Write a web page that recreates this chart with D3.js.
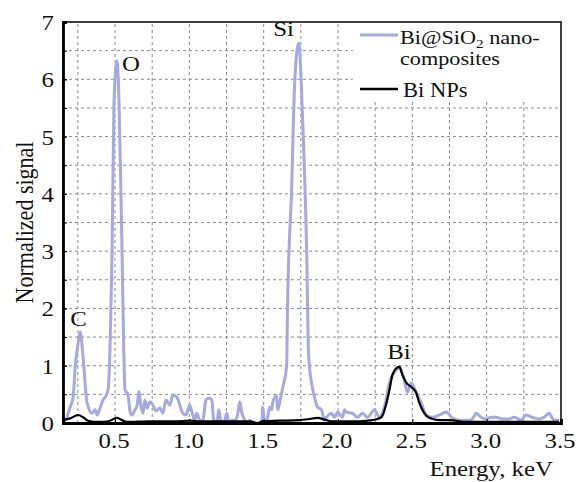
<!DOCTYPE html>
<html>
<head>
<meta charset="utf-8">
<script src="https://cdn.jsdelivr.net/npm/d3@7"></script>
<style>
  body { margin: 0; background: #fff; }
</style>
</head>
<body>
<svg id="chart"></svg>
<script>
// Bi@SiO2 nanocomposites spectrum (energy keV, normalized signal)
const compEnergy = [0.151,0.164,0.198,0.218,0.232,0.252,0.265,0.285,0.312,0.346,0.366,0.379,0.399,0.419,0.440,0.453,0.466,0.480,0.493,0.513,0.527,0.547,0.567,0.587,0.601,0.614,0.634,0.648,0.661,0.674,0.688,0.701,0.715,0.735,0.755,0.775,0.802,0.822,0.842,0.869,0.889,0.916,0.936,0.956,0.977,0.990,1.003,1.017,1.037,1.050,1.070,1.091,1.111,1.131,1.151,1.164,1.185,1.198,1.211,1.232,1.252,1.265,1.285,1.312,1.326,1.339,1.352,1.372,1.393,1.406,1.426,1.460,1.487,1.493,1.507,1.520,1.540,1.554,1.560,1.587,1.594,1.607,1.628,1.654,1.661,1.688,1.708,1.735,1.762,1.789,1.802,1.822,1.842,1.862,1.889,1.909,1.923,1.956,1.976,1.997,2.030,2.044,2.057,2.097,2.131,2.164,2.198,2.245,2.279,2.312,2.346,2.379,2.413,2.446,2.466,2.493,2.527,2.560,2.594,2.634,2.681,2.728,2.768,2.815,2.862,2.896,2.930,2.963,2.997,3.030,3.064,3.104,3.151,3.185,3.232,3.265,3.305,3.352,3.386,3.419,3.453,3.487];
const compSignal = [0.05,0.05,0.28,0.45,0.98,1.40,1.59,1.15,0.35,0.17,0.23,0.14,0.26,0.40,0.48,0.58,1.27,3.0,5.6,6.32,5.6,3.0,0.58,0.50,0.20,0.14,0.23,0.30,0.55,0.30,0.17,0.40,0.26,0.37,0.31,0.21,0.26,0.17,0.40,0.31,0.49,0.45,0.31,0.17,0.14,0.23,0.31,0.19,0.05,0.17,0.05,0.05,0.40,0.43,0.40,0.05,0.0,0.23,0.05,0.0,0.17,0.0,0.05,0.05,0.17,0.37,0.19,0.05,0.0,0.05,0.0,0.0,0.0,0.28,0.02,0.02,0.28,0.23,0.35,0.48,0.23,0.35,0.62,0.98,2.1,4.1,5.9,6.63,5.3,3.0,1.2,0.70,0.45,0.28,0.23,0.05,0.10,0.17,0.10,0.19,0.10,0.23,0.19,0.17,0.10,0.17,0.10,0.23,0.10,0.28,0.70,0.89,0.96,0.75,0.54,0.70,0.52,0.35,0.14,0.10,0.14,0.19,0.09,0.05,0.05,0.05,0.17,0.10,0.07,0.10,0.10,0.07,0.07,0.10,0.05,0.14,0.10,0.07,0.10,0.17,0.05,0.05];

// Bi NPs spectrum
const npEnergy = [0.151,0.198,0.252,0.285,0.319,0.366,0.433,0.466,0.513,0.547,0.581,0.735,0.903,1.003,1.070,1.272,1.406,1.440,1.460,1.487,1.607,1.742,1.809,1.862,1.909,1.956,2.144,2.231,2.292,2.326,2.346,2.366,2.393,2.413,2.433,2.460,2.493,2.527,2.547,2.581,2.614,2.681,2.748,2.862,3.084,3.487];
const npSignal = [0.05,0.08,0.14,0.10,0.04,0.02,0.02,0.04,0.09,0.05,0.02,0.03,0.03,0.04,0.03,0.03,0.03,0.01,-0.01,0.03,0.04,0.05,0.07,0.09,0.06,0.03,0.03,0.05,0.10,0.35,0.58,0.84,0.96,0.98,0.84,0.70,0.63,0.52,0.35,0.17,0.09,0.05,0.05,0.02,0.02,0.02];

const xTicks = [0.5, 1.0, 1.5, 2.0, 2.5, 3.0, 3.5];
const yTicks = [0, 1, 2, 3, 4, 5, 6, 7];
const xGrid = [0.25,0.5,0.75,1.0,1.25,1.5,1.75,2.0,2.25,2.5,2.75,3.0,3.25];
const yGrid = [0.5,1,1.5,2,2.5,3,3.5,4,4.5,5,5.5,6,6.5];

const peakLabels = [
  { text: "C", e: 0.255, v: 1.70, anchor: "middle" },
  { text: "O", e: 0.52, v: 6.15, anchor: "start" },
  { text: "Si", e: 1.73, v: 6.75, anchor: "end" },
  { text: "Bi", e: 2.41, v: 1.11, anchor: "middle" }
];

const width = 579, height = 482;
const margin = { top: 22, right: 18, bottom: 59, left: 63 };
const sx = 1.13; // horizontal stretch of the lettering
const serif = "'Liberation Serif', 'Times New Roman', serif";

const svg = d3.select("#chart")
  .attr("width", width)
  .attr("height", height)
  .attr("font-family", serif);

const x = d3.scaleLinear()
  .domain([0.15, 3.5])
  .range([margin.left, width - margin.right]);

const y = d3.scaleLinear()
  .domain([0, 7])
  .range([height - margin.bottom, margin.top]);

function label(px, py, str, anchor, size) {
  return svg.append("text")
    .attr("transform", `translate(${px},${py}) scale(${sx},1)`)
    .attr("text-anchor", anchor)
    .attr("font-family", serif)
    .attr("font-size", size)
    .attr("fill", "#111")
    .text(str);
}

// grid
svg.append("g").selectAll("line")
  .data(xGrid)
  .enter().append("line")
  .attr("x1", d => x(d)).attr("x2", d => x(d))
  .attr("y1", y(0)).attr("y2", y(7))
  .attr("stroke", "#8a8a8a").attr("stroke-width", 1)
  .attr("stroke-dasharray", "3,3");

svg.append("g").selectAll("line")
  .data(yGrid)
  .enter().append("line")
  .attr("x1", x(0.15)).attr("x2", x(3.5))
  .attr("y1", d => y(d)).attr("y2", d => y(d))
  .attr("stroke", "#8a8a8a").attr("stroke-width", 1)
  .attr("stroke-dasharray", "3,3");

// legend box hides the grid
const lx = x(2.1), ly = y(7), lh = y(5.65) - y(7);
svg.append("rect")
  .attr("x", lx).attr("y", ly)
  .attr("width", x(3.5) - lx).attr("height", lh)
  .attr("fill", "#fff");

// spectra
const comp = compEnergy.map((e, i) => [e, compSignal[i]]);
const np = npEnergy.map((e, i) => [e, npSignal[i]]);

const line = d3.line()
  .x(d => x(d[0]))
  .y(d => y(d[1]))
  .curve(d3.curveMonotoneX);

svg.append("path")
  .datum(comp)
  .attr("d", line)
  .attr("fill", "none")
  .attr("stroke", "#a4a9e2")
  .attr("stroke-width", 3)
  .attr("stroke-linejoin", "round");

svg.append("path")
  .datum(np)
  .attr("d", line)
  .attr("fill", "none")
  .attr("stroke", "#000")
  .attr("stroke-width", 2.2)
  .attr("stroke-linejoin", "round");

// frame
svg.append("rect")
  .attr("x", x(0.15)).attr("y", y(7))
  .attr("width", x(3.5) - x(0.15)).attr("height", y(0) - y(7))
  .attr("fill", "none").attr("stroke", "#000").attr("stroke-width", 1.5);

// axes with inward ticks
const xAxis = svg.append("g")
  .attr("transform", `translate(0,${y(0)})`)
  .call(d3.axisBottom(x).tickValues(xTicks).tickSize(-4).tickFormat(""));
xAxis.select(".domain").attr("stroke-width", 2.8);
const yAxis = svg.append("g")
  .attr("transform", `translate(${x(0.15)},0)`)
  .call(d3.axisLeft(y).tickValues(yGrid.concat(yTicks)).tickSize(-4).tickFormat(""));
yAxis.select(".domain").attr("stroke-width", 2.8);

xTicks.forEach(t => label(x(t) - 1, y(0) + 25, d3.format(".1f")(t), "middle", 22));
yTicks.forEach(t => label(x(0.15) - 9, y(t) + 8, String(t), "end", 22));

// axis titles
label(553, 476, "Energy, keV", "end", 22);
svg.append("text")
  .attr("transform", `translate(33,${(y(0) + y(7)) / 2}) scale(${sx},1) rotate(-90)`)
  .attr("text-anchor", "middle")
  .attr("font-family", serif)
  .attr("font-size", 22)
  .attr("fill", "#111")
  .text("Normalized signal");

// peak labels
peakLabels.forEach(p => {
  const px = p.anchor === "start" ? x(p.e) + 4 : p.anchor === "end" ? x(p.e) - 4 : x(p.e);
  label(px, y(p.v), p.text, p.anchor, 22);
});

// legend
svg.append("line")
  .attr("x1", 360).attr("x2", 398).attr("y1", 35).attr("y2", 35)
  .attr("stroke", "#a4a9e2").attr("stroke-width", 3);
svg.append("line")
  .attr("x1", 360).attr("x2", 398).attr("y1", 89).attr("y2", 89)
  .attr("stroke", "#000").attr("stroke-width", 2.5);

const t1 = svg.append("text")
  .attr("transform", `translate(400,44) scale(1.17,1)`)
  .attr("font-family", serif)
  .attr("font-size", 19)
  .attr("fill", "#111");
t1.append("tspan").text("Bi@SiO");
t1.append("tspan").attr("font-size", 13).attr("dy", 4).text("2");
t1.append("tspan").attr("dy", -4).text(" nano-");
const t2 = label(400, 65, "composites", "start", 19);
t2.attr("transform", `translate(400,65) scale(1.17,1)`);
label(403, 97, "Bi NPs", "start", 20);
</script>
</body>
</html>
